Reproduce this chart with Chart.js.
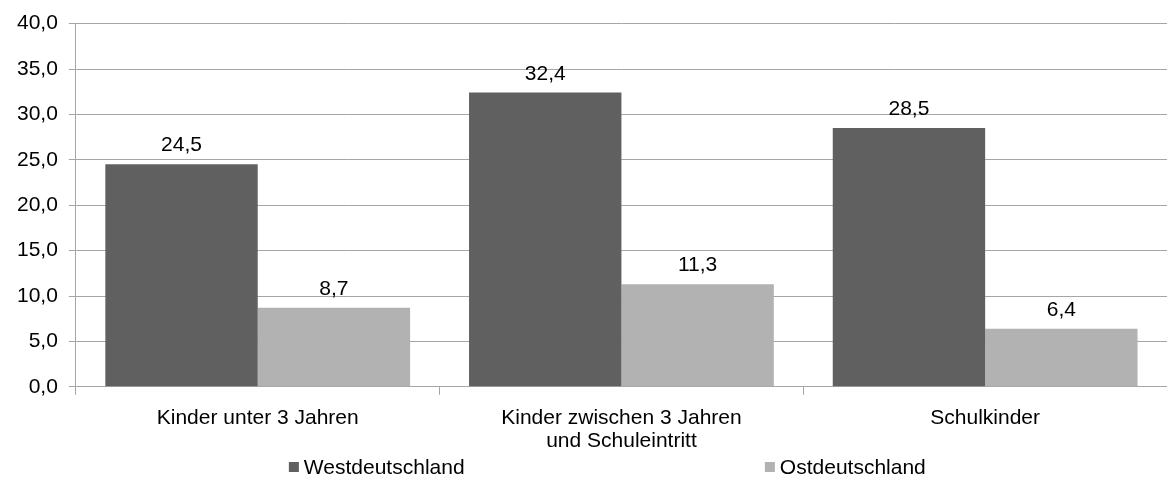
<!DOCTYPE html>
<html>
<head>
<meta charset="utf-8">
<script src="https://cdn.jsdelivr.net/npm/chart.js@4"></script>
<style>
  html, body { margin: 0; padding: 0; background: #fff; }
</style>
</head>
<body>
<canvas id="betreuungChart" width="1167" height="477"></canvas>
<script>
const categories = [
  'Kinder unter 3 Jahren',
  ['Kinder zwischen 3 Jahren', 'und Schuleintritt'],
  'Schulkinder'
];
const westValues = [24.5, 32.4, 28.5];
const ostValues = [8.7, 11.3, 6.4];
const seriesNames = ['Westdeutschland', 'Ostdeutschland'];
const yTicks = { min: 0, max: 40, step: 5 };

const FONT = 'Liberation Sans, Arial, sans-serif';
const GRID = '#a6a6a6';

function fmt(v) {
  return v.toFixed(1).replace('.', ',');
}

// value labels above each bar
const valueLabels = {
  id: 'valueLabels',
  afterDatasetsDraw(chart) {
    const ctx = chart.ctx;
    ctx.save();
    ctx.font = '21px ' + FONT;
    ctx.fillStyle = '#000';
    ctx.textAlign = 'center';
    ctx.textBaseline = 'alphabetic';
    chart.data.datasets.forEach((ds, di) => {
      chart.getDatasetMeta(di).data.forEach((bar, i) => {
        ctx.fillText(fmt(ds.data[i]), bar.x, bar.y - 13);
      });
    });
    ctx.restore();
  }
};

// legend spread out like the office chart
const wideLegend = {
  id: 'wideLegend',
  afterDraw(chart) {
    const ctx = chart.ctx;
    const area = chart.chartArea;
    const starts = [area.left + 213, area.left + 689];
    const y = chart.height - 10;
    ctx.save();
    ctx.font = '21px ' + FONT;
    ctx.textAlign = 'left';
    ctx.textBaseline = 'middle';
    chart.data.datasets.forEach((ds, i) => {
      const x = starts[i];
      ctx.fillStyle = ds.backgroundColor;
      ctx.fillRect(x, y - 5, 10, 10);
      ctx.fillStyle = '#000';
      ctx.fillText(ds.label, x + 15, y + 1);
    });
    ctx.restore();
  }
};

new Chart(document.getElementById('betreuungChart').getContext('2d'), {
  type: 'bar',
  data: {
    labels: categories,
    datasets: [
      { label: seriesNames[0], data: westValues, backgroundColor: '#606060' },
      { label: seriesNames[1], data: ostValues, backgroundColor: '#b2b2b2' }
    ]
  },
  options: {
    responsive: false,
    animation: false,
    categoryPercentage: 0.838,
    barPercentage: 1.0,
    layout: { padding: { top: 9, left: 6, right: 0, bottom: 12 } },
    plugins: {
      legend: { display: false },
      tooltip: { enabled: false }
    },
    scales: {
      x: {
        grid: { drawOnChartArea: false, drawTicks: true, tickLength: 8, color: GRID },
        border: { color: GRID },
        ticks: { color: '#000', padding: 12, font: { family: FONT, size: 21, lineHeight: 1.1 } }
      },
      y: {
        min: yTicks.min,
        max: yTicks.max,
        grid: { color: GRID, tickLength: 7 },
        border: { color: GRID },
        ticks: {
          stepSize: yTicks.step,
          color: '#000',
          padding: 11,
          font: { family: FONT, size: 21 },
          callback: (v) => fmt(v)
        }
      }
    }
  },
  plugins: [valueLabels, wideLegend]
});
</script>
</body>
</html>
